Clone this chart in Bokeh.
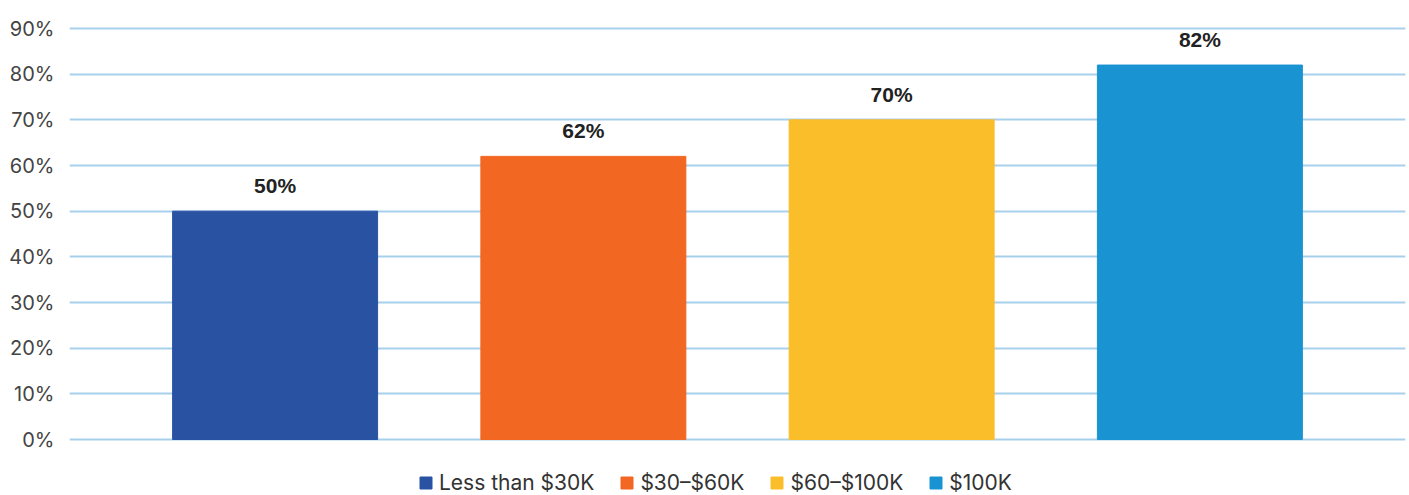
from bokeh.plotting import figure
from bokeh.models import (ColumnDataSource, Range1d, FixedTicker, PrintfTickFormatter, Legend,
                          LegendItem)
from bokeh.core.properties import value
from bokeh.embed import file_html
from bokeh.resources import INLINE

categories = ["Less than $30K", "$30–$60K", "$60–$100K", "$100K"]
values = [50, 62, 70, 82]
labels = ["50%", "62%", "70%", "82%"]
colors = ["#2952A2", "#F26722", "#FBBE2B", "#1A93D2"]
y_ticks = [0, 10, 20, 30, 40, 50, 60, 70, 80, 90]

src = ColumnDataSource(dict(x=list(range(len(categories))), top=values, cat=categories,
                            color=colors, lab=labels))

p = figure(width=1409, height=495, output_backend="svg", toolbar_location=None,
           x_range=Range1d(-0.667, len(categories) - 1 + 0.667),
           y_range=Range1d(-12.26, 92.85),
           min_border_left=69, min_border_right=4, min_border_top=15, min_border_bottom=0,
           x_axis_location=None)
p.outline_line_color = None
p.background_fill_color = "white"
p.border_fill_color = "white"
p.xgrid.visible = False
p.ygrid.grid_line_color = "#A7D0EC"
p.ygrid.grid_line_width = 2
p.ygrid.ticker = FixedTicker(ticks=y_ticks)

ax = p.yaxis[0]
ax.ticker = FixedTicker(ticks=y_ticks)
ax.formatter = PrintfTickFormatter(format="%d%%")
ax.axis_line_color = None
ax.major_tick_line_color = None
ax.minor_tick_line_color = None
ax.major_label_standoff = 9
ax.major_label_text_font = "Inter"
ax.major_label_text_font_size = "20px"
ax.major_label_text_color = "#444444"

r = p.vbar(x="x", top="top", bottom=0, width=0.665, color="color", source=src)

p.text(x="x", y="top", text="lab", source=src, text_align="center", text_baseline="bottom",
       y_offset=-14, text_font=value("Liberation Sans"), text_font_style="bold",
       text_font_size="21px", text_color="#222222")

items = [LegendItem(label=c, renderers=[r], index=i) for i, c in enumerate(categories)]
legend = Legend(items=items, orientation="horizontal", location=(349, 0),
                padding=0, margin=0, spacing=25, label_standoff=6, glyph_width=15,
                glyph_height=15, label_height=14, label_text_font="Inter",
                label_text_font_size="21px", label_text_color="#333333",
                border_line_color=None, background_fill_alpha=0)
p.add_layout(legend, "center")

open("out.html", "w").write(file_html(p, INLINE))
